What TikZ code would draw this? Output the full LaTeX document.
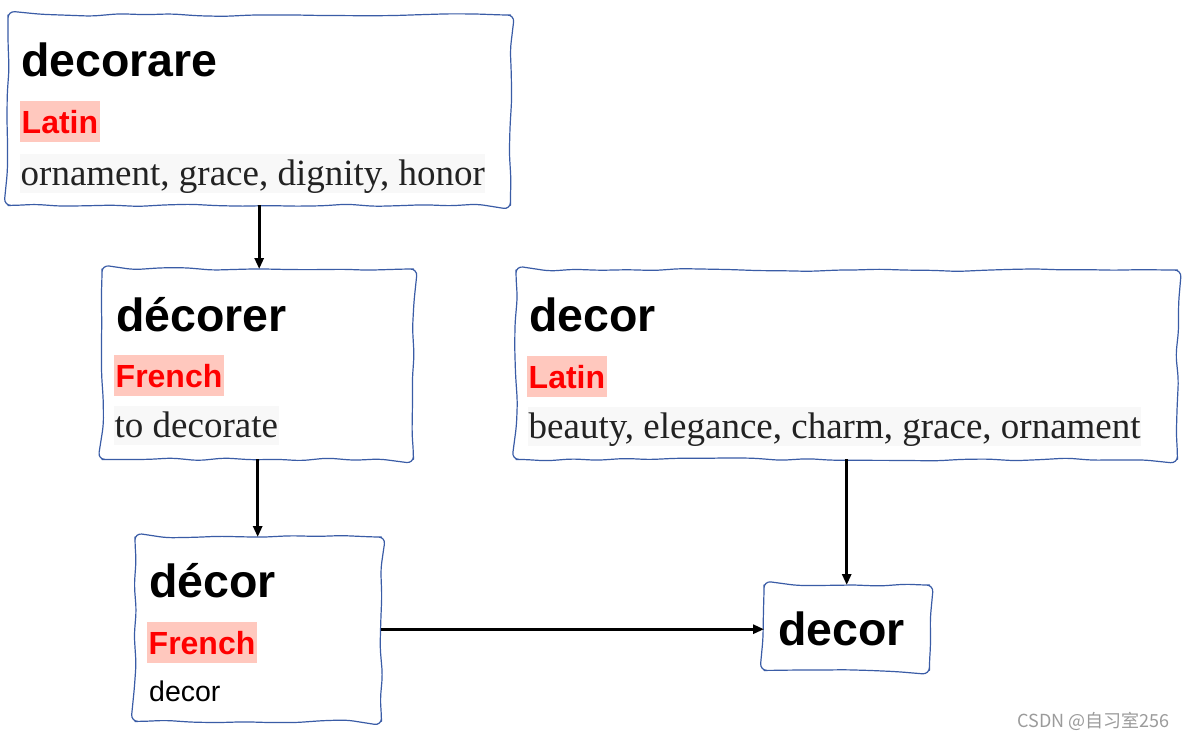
\documentclass[tikz,border=0pt]{standalone}
\usepackage{fontspec}
\setmainfont{Liberation Serif}
\setsansfont{Liberation Sans}
\newfontfamily\cjkfont{Noto Sans CJK SC}
\usetikzlibrary{decorations.pathmorphing,arrows.meta,backgrounds}
\definecolor{bordercol}{RGB}{58,92,166}
\definecolor{langred}{RGB}{255,0,0}
\definecolor{hl}{RGB}{255,200,190}
\definecolor{glosscol}{RGB}{34,34,34}
\definecolor{glossbg}{RGB}{248,248,248}
\definecolor{markgray}{RGB}{155,155,155}
\begin{document}
\begin{tikzpicture}[x=1pt,y=-1pt,
  box/.style={fill=white, rectangle, inner sep=0pt, anchor=north west},
  wobble/.style={draw=bordercol, line width=1.2pt, line join=round, decorate,
    decoration={random steps, segment length=26pt, amplitude=1.5pt}, rounded corners=7pt},
  glow/.style={draw=black, line cap=round, line join=round},
  title/.style={font=\sffamily\bfseries\fontsize{46.5}{50}\selectfont, anchor=base west, inner sep=0pt},
  lang/.style={font=\sffamily\bfseries\fontsize{32}{36}\selectfont, text=langred, fill=hl,
    anchor=base west, inner xsep=1.5pt, inner ysep=0pt, text height=32pt, text depth=9pt},
  gloss/.style={font=\fontsize{37}{40}\selectfont, text=glosscol, fill=glossbg,
    anchor=base west, inner xsep=0.5pt, inner ysep=0pt, text height=31pt, text depth=8pt},
  plain/.style={font=\sffamily\fontsize{28.5}{32}\selectfont, anchor=base west, inner sep=0pt},
  arr/.style={-{Triangle[length=11pt,width=9pt]}, line width=2.8pt, black},
  wmark/.style={font=\cjkfont\fontsize{18}{21}\selectfont, text=markgray, anchor=base east, inner sep=0pt}
]
\pgfmathsetseed{11}
\useasboundingbox[fill=white] (0,0) rectangle (1185,739);

% boxes
\node[box, minimum width=502pt, minimum height=190pt] (b1) at (8,15) {};
\node[box, minimum width=311pt, minimum height=190pt] (b2) at (102,269) {};
\node[box, minimum width=661pt, minimum height=189pt] (b3) at (516,270) {};
\node[box, minimum width=246pt, minimum height=184pt] (b4) at (135,537) {};
\node[box, minimum width=165pt, minimum height=85pt] (b5) at (764,585) {};

% soft shadows
\begin{pgfonlayer}{background}
  \foreach \b in {b1,b2,b3,b4,b5}{
    \draw[glow, line width=14pt, opacity=0.035] (\b.north west) rectangle (\b.south east);
    \draw[glow, line width=8pt, opacity=0.045] (\b.north west) rectangle (\b.south east);
    \draw[glow, line width=3pt, opacity=0.05] (\b.north west) rectangle (\b.south east);
  }
\end{pgfonlayer}

% wobbly hand-drawn borders
\foreach \b in {b1,b2,b3,b4,b5}{
  \draw[wobble] (\b.north) -- (\b.north east) -- (\b.south east) -- (\b.south west)
    -- (\b.north west) -- cycle;
}

% box 1
\node[title] (t1) at (21,76) {decorare};
\node[lang] (l1) at (20,133) {Latin};
\node[gloss] (g1) at (20,185) {ornament, grace, dignity, honor};

% box 2
\node[title] (t2) at (116,331) {décorer};
\node[lang] (l2) at (114,387) {French};
\node[gloss] (g2) at (114,437) {to decorate};

% box 3
\node[title] (t3) at (529,331) {decor};
\node[lang] (l3) at (527,388) {Latin};
\node[gloss] (g3) at (528,438) {beauty, elegance, charm, grace, ornament};

% box 4
\node[title] (t4) at (149,597) {décor};
\node[lang] (l4) at (147,654) {French};
\node[plain] (p4) at (149,701) {decor};

% box 5
\node[title] (t5) at (778,645) {decor};

% connectors
\draw[arr] (b1.south) -- (b1.south |- b2.north);
\draw[arr] (b2.south) -- (b2.south |- b4.north);
\draw[arr] (b3.south) -- (b3.south |- b5.north);
\draw[arr] (b4.east) -- (b4.east -| b5.west);

% watermark
\node[wmark] (wm) at (1170,727) {CSDN @自习室256};
\end{tikzpicture}
\end{document}
